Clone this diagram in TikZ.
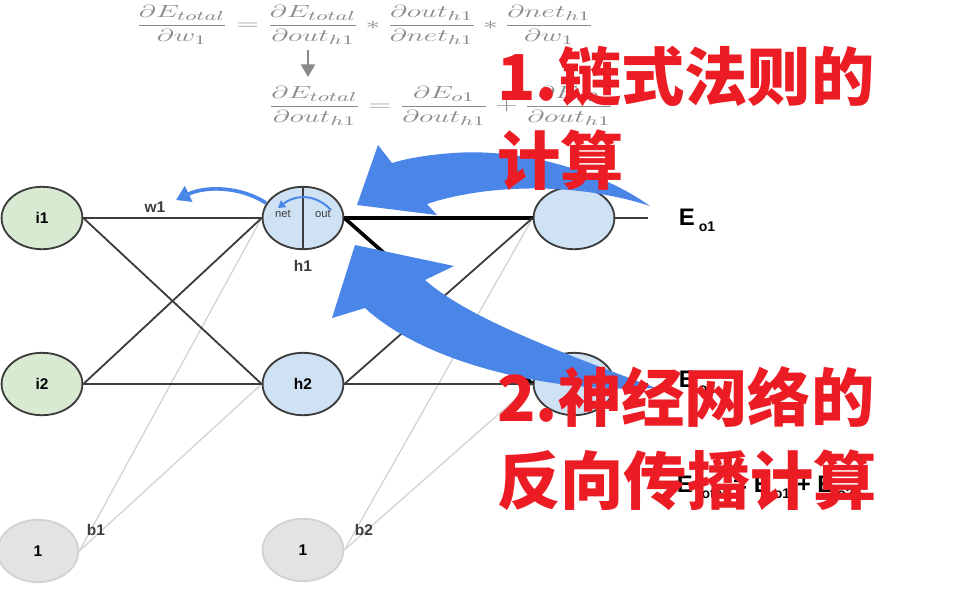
\documentclass[tikz,border=0pt]{standalone}
\usepackage{amsmath}
\usepackage{fontspec}
\setsansfont{Liberation Sans}
\newfontfamily\cjk{Noto Sans CJK SC}
\usetikzlibrary{shapes.geometric,arrows.meta,positioning}
\definecolor{InGreen}{HTML}{D9EAD3}
\definecolor{HidBlue}{HTML}{CFE2F3}
\definecolor{BiasGray}{HTML}{E3E3E3}
\definecolor{EdgeGray}{HTML}{3C3C3C}
\definecolor{BiasLine}{HTML}{D2D2D2}
\definecolor{ArrowBlue}{HTML}{4A86E8}
\definecolor{NoteRed}{HTML}{EC1C24}
\definecolor{FormulaGray}{HTML}{8A8A8A}
\tikzset{
  neuron/.style={ellipse, draw=EdgeGray, line width=1.3pt, minimum width=2.02cm,
    minimum height=1.56cm, inner sep=0pt, font=\sffamily\bfseries\fontsize{11}{13}\selectfont},
  biasnode/.style={neuron, draw=BiasLine, fill=BiasGray},
  wire/.style={EdgeGray, line width=1.3pt},
  thickwire/.style={black, line width=2.6pt},
  biaswire/.style={BiasLine, line width=0.9pt},
  tag/.style={font=\sffamily\bfseries\fontsize{11}{13}\selectfont, text=EdgeGray},
  formula/.style={text=FormulaGray, transform shape, xscale=1.75, yscale=1.04,
    font=\fontsize{13}{15}\selectfont},
  redtext/.style={anchor=west, text=NoteRed, inner sep=0pt, font=\cjk\bfseries\fontsize{45}{54}\selectfont},
}

\begin{document}
\begin{tikzpicture}[x=0.025cm, y=-0.025cm]
  \useasboundingbox (0,0) rectangle (960,600);

  % --- formules en haut ---
  \node[formula] (eqa) at (365,25)
    {$\displaystyle \frac{\partial E_{total}}{\partial w_1} = \frac{\partial E_{total}}{\partial out_{h1}} * \frac{\partial out_{h1}}{\partial net_{h1}} * \frac{\partial net_{h1}}{\partial w_1}$};
  \node[formula] (eqb) at (441,106)
    {$\displaystyle \frac{\partial E_{total}}{\partial out_{h1}} = \frac{\partial E_{o1}}{\partial out_{h1}} + \frac{\partial E_{o2}}{\partial out_{h1}}$};
  \coordinate (eqtop) at (308,50);
  \coordinate (eqbot) at (308,77);
  \draw[FormulaGray, line width=1.6pt, -{Triangle[length=9pt,width=10pt]}] (eqtop) -- (eqbot);

  % --- neurones ---
  \node[neuron, fill=InGreen] (i1) at (42,218) {i1};
  \node[neuron, fill=InGreen] (i2) at (42,384) {i2};
  \node[neuron, fill=HidBlue] (h1) at (303,218) {};
  \node[neuron, fill=HidBlue] (h2) at (303,384) {h2};
  \node[neuron, fill=HidBlue] (o1) at (574,218) {};
  \node[neuron, fill=HidBlue] (o2) at (574,384) {};
  \node[biasnode] (b1) at (38,551) {1};
  \node[biasnode] (b2) at (303,550) {1};

  % --- h1 : net | out ---
  \draw[wire] (h1.north) -- (h1.south);
  \node[font=\sffamily\fontsize{8}{9}\selectfont, text=EdgeGray] (net) at (283,214) {net};
  \node[font=\sffamily\fontsize{8}{9}\selectfont, text=EdgeGray] (out) at (323,214) {out};

  % --- liaisons ---
  \draw[biaswire] (b1.east) -- (h1.west);
  \draw[biaswire] (b1.east) -- (h2.west);
  \draw[biaswire] (b2.east) -- (o1.west);
  \draw[biaswire] (b2.east) -- (o2.west);
  \draw[wire] (i1.east) -- (h1.west);
  \draw[wire] (i1.east) -- (h2.west);
  \draw[wire] (i2.east) -- (h1.west);
  \draw[wire] (i2.east) -- (h2.west);
  \draw[thickwire] (h1.east) -- (o1.west);
  \draw[thickwire] (h1.east) -- (o2.west);
  \draw[wire] (h2.east) -- (o1.west);
  \draw[wire] (h2.east) -- (o2.west);
  \coordinate (eo1) at (648,218);
  \coordinate (eo2) at (648,384);
  \draw[wire] (o1.east) -- (eo1);
  \draw[wire] (o2.east) -- (eo2);

  % --- etiquettes ---
  \node[tag] (w1) at (155,207) {w1};
  \node[tag] (h1lab) at (303,266) {h1};
  \node[tag] (b1lab) at (96,530) {b1};
  \node[tag] (b2lab) at (364,530) {b2};
  \node[tag, anchor=west, text=black] (eo1lab) at (674,220)
    {\fontsize{17}{19}\selectfont E\,\raisebox{-0.5ex}{\fontsize{10}{12}\selectfont o1}};
  \node[tag, anchor=west, text=black] (eo2lab) at (674,382)
    {\fontsize{17}{19}\selectfont E\,\raisebox{-0.5ex}{\fontsize{10}{12}\selectfont o2}};
  \node[tag, anchor=west, text=black] (etot) at (672,487)
    {\fontsize{17}{19}\selectfont E\,\raisebox{-0.5ex}{\fontsize{10}{12}\selectfont total} = E\,\raisebox{-0.5ex}{\fontsize{10}{12}\selectfont o1} + E\,\raisebox{-0.5ex}{\fontsize{10}{12}\selectfont o2}};

  % --- petites fleches bleues ---
  \coordinate (h1nw) at (266,203);
  \coordinate (w1tip) at (176,200);
  \draw[ArrowBlue, line width=2.6pt, -{Triangle[length=10pt,width=12pt]}]
    (h1nw) .. controls (240,186) and (205,186) .. (w1tip);
  \coordinate (outtop) at (331,210);
  \coordinate (nettip) at (278,208);
  \draw[ArrowBlue, line width=1.4pt, -{Triangle[length=5pt,width=6pt]}]
    (outtop) .. controls (316,194) and (296,194) .. (nettip);

  % --- grosse fleche 1 (regle de chaine) ---
  \fill[ArrowBlue] (650,206) .. controls (600,170) and (520,148) .. (453,153)
    .. controls (425,155) and (405,159) .. (392,163) -- (378,145) -- (357,205)
    -- (437,215) -- (427,204) .. controls (480,186) and (570,180) .. (650,206) -- cycle;

  % --- grosse fleche 2 (retropropagation) ---
  \fill[ArrowBlue] (656,388) .. controls (560,394) and (428,366) .. (365,308)
    -- (332,318) -- (355,245) -- (454,266) -- (425,280)
    .. controls (468,318) and (560,352) .. (656,388) -- cycle;

  % --- texte rouge ---
  \node[redtext] (t1a) at (497,76) {1.链式法则的};
  \node[redtext] (t1b) at (497,160) {计算};
  \node[redtext] (t2a) at (497,397) {2.神经网络的};
  \node[redtext] (t2b) at (497,480) {反向传播计算};
\end{tikzpicture}
\end{document}
